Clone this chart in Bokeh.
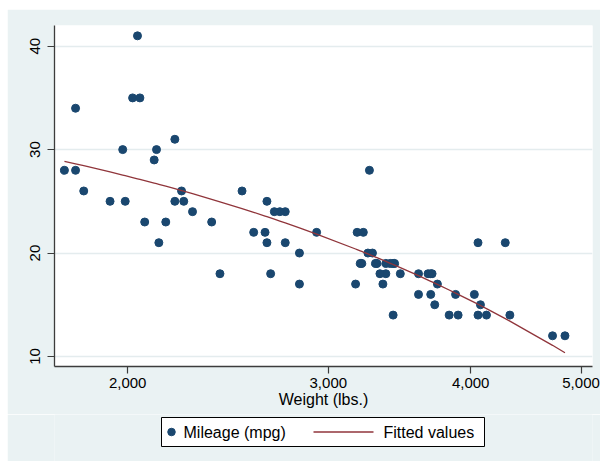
import numpy as np
from bokeh.plotting import figure
from bokeh.models import Range1d, FixedTicker
from bokeh.layouts import column
from bokeh.core.properties import value
from bokeh.embed import file_html
from bokeh.resources import INLINE

# ---- data (Stata auto dataset: weight vs mileage) ----
weight = [2930, 3350, 2640, 3250, 4080, 3670, 2230, 3280, 3880, 3400,
          4330, 3900, 4290, 2110, 3690, 3180, 3220, 2750, 3430, 2120,
          3600, 3600, 3740, 1800, 2650, 4840, 4720, 3830, 2580, 4060,
          3720, 3370, 4130, 2830, 4060, 3310, 3300, 3690, 3370, 2720,
          4030, 3260, 1800, 2200, 2520, 3330, 3700, 3470, 3210, 3200,
          3420, 2690, 2830, 2070, 2650, 2370, 2020, 2280, 2750, 2130,
          2240, 1760, 1980, 3420, 1830, 2050, 2410, 2200, 2670, 2160,
          2040, 1930, 1990, 3170]
mpg = [22, 17, 22, 20, 15, 18, 26, 20, 16, 19,
       14, 14, 21, 29, 16, 22, 22, 24, 19, 30,
       18, 16, 17, 28, 21, 12, 12, 14, 22, 14,
       15, 18, 14, 20, 21, 19, 19, 18, 19, 24,
       16, 28, 34, 25, 26, 18, 18, 18, 19, 19,
       19, 24, 17, 23, 25, 23, 35, 24, 21, 21,
       25, 28, 30, 14, 26, 35, 18, 31, 18, 23,
       41, 25, 25, 17]
x_ticks = [2000, 3000, 4000, 5000]
x_tick_labels = ["2,000", "3,000", "4,000", "5,000"]
y_ticks = [10, 20, 30, 40]
legend_labels = ["Mileage (mpg)", "Fitted values"]
x_title = "Weight (lbs.)"

# linear fit of mpg on weight (Stata lfit)
slope, intercept = np.polyfit(weight, mpg, 1)
fit_w = np.unique(weight)
fit_y = intercept + slope * fit_w

NAVY = "#1a476f"
MAROON = "#90353b"
BG = "#eaf2f3"
FONT = value("Liberation Sans")

p = figure(width=593, height=405, x_axis_type="log",
           x_range=Range1d(1725, 5117), y_range=Range1d(9.03, 42.0),
           output_backend="svg", toolbar_location=None,
           min_border_left=47, min_border_right=8,
           min_border_top=16, min_border_bottom=48)
p.background_fill_color = "white"
p.border_fill_color = BG
p.outline_line_color = None

p.scatter(weight, mpg, size=8, color=NAVY)
p.line(fit_w, fit_y, line_color=MAROON, line_width=1.3)

for ax in (p.xaxis, p.yaxis):
    ax.axis_line_color = "#3c3c3c"
    ax.axis_line_width = 1.3
    ax.major_tick_line_color = "#3c3c3c"
    ax.major_tick_line_width = 1.2
    ax.major_tick_out = 7
    ax.major_tick_in = 0
    ax.minor_tick_line_color = None
    ax.major_label_text_font = "Liberation Sans"
    ax.major_label_text_font_size = "15px"
    ax.major_label_text_color = "black"

p.xaxis.ticker = FixedTicker(ticks=x_ticks)
p.xaxis.major_label_overrides = {t: l for t, l in zip(x_ticks, x_tick_labels)}
p.xaxis.major_label_standoff = 4
p.xaxis.axis_label = x_title
p.xaxis.axis_label_text_font = "Liberation Sans"
p.xaxis.axis_label_text_font_size = "16px"
p.xaxis.axis_label_text_font_style = "normal"
p.xaxis.axis_label_text_color = "black"
p.xaxis.axis_label_standoff = 0

p.yaxis.ticker = FixedTicker(ticks=y_ticks)
p.yaxis.major_label_orientation = "vertical"
p.yaxis.major_label_standoff = 7

p.xgrid.visible = False
p.ygrid.grid_line_color = "#e4ecee"
p.ygrid.grid_line_width = 1.5

# ---- legend panel (frame aligned with the main plot frame; ranges in page px) ----
lg = figure(width=593, height=47, x_range=Range1d(54, 592), y_range=Range1d(461, 414),
            x_axis_type=None, y_axis_type=None,
            output_backend="svg", toolbar_location=None,
            min_border_left=47, min_border_right=8, min_border_top=0, min_border_bottom=0)
lg.background_fill_color = BG
lg.border_fill_color = BG
lg.outline_line_color = None
lg.xgrid.visible = False
lg.ygrid.visible = False
lg.quad(left=[161], right=[484], bottom=[446], top=[417],
        fill_color="white", line_color="black", line_width=1)
lg.scatter([171], [431.5], size=7.5, color=NAVY)
lg.line([313, 373], [431.5, 431.5], line_color=MAROON, line_width=1.3)
lg.text([183, 383], [431.5, 431.5], text=legend_labels, text_font=FONT,
        text_font_size="16px", text_baseline="middle", text_color="black")

layout = column(p, lg, spacing=0, margin=(9, 0, 0, 7))
open("out.html", "w").write(file_html(layout, INLINE))
